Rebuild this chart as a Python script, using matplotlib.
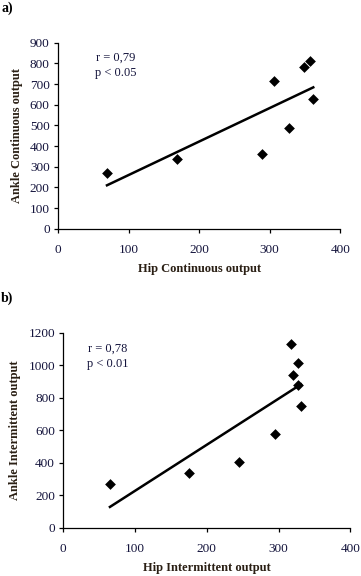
import numpy as np
import matplotlib
matplotlib.use("Agg")
import matplotlib.pyplot as plt

# Panel a data
hip_cont = [69.4, 168, 288.5, 306, 326.8, 348.5, 356.6, 361.7]
ankle_cont = [269, 337, 360, 714, 489, 782, 811, 626]
# Panel b data
hip_int = [65, 174.7, 244.4, 295, 316.8, 320, 326.6, 326.6, 331.2]
ankle_int = [270, 338, 407.5, 577, 1132, 938, 1014, 876, 749.5]

xticks = [0, 100, 200, 300, 400]
yticks_a = [0, 100, 200, 300, 400, 500, 600, 700, 800, 900]
yticks_b = [0, 200, 400, 600, 800, 1000, 1200]

plt.rcParams['font.family'] = ['Liberation Serif', 'DejaVu Serif']

W, H = 361, 576
fig = plt.figure(figsize=(W / 100, H / 100), dpi=100)

tick_color = '#14143c'
label_color = '#2a1f14'

def panel(rect, x, y, yticks, xlabel, ylabel, rtxt, ptxt, tpos, letter, lpos):
    ax = fig.add_axes(rect)
    ax.scatter(x, y, marker='D', s=30, color='black', zorder=3, linewidths=0)
    k, b = np.polyfit(x, y, 1)
    xs = np.array([min(x), max(x)])
    ax.plot(xs, k * xs + b, color='black', lw=1.8, zorder=2)
    ax.set_xlim(0, 400)
    ax.set_ylim(yticks[0], yticks[-1])
    ax.set_xticks(xticks)
    ax.set_yticks(yticks)
    for s in ['top', 'right']:
        ax.spines[s].set_visible(False)
    for s in ['left', 'bottom']:
        ax.spines[s].set_linewidth(0.9)
    ax.tick_params(axis='both', labelsize=9.5, colors='black', labelcolor=tick_color,
                   length=3, width=0.9, direction='out')
    ax.tick_params(axis='x', pad=8)
    ax.tick_params(axis='y', pad=3)
    ax.set_xlabel(xlabel, fontsize=9, fontweight='bold', color=label_color, labelpad=5)
    ax.set_ylabel(ylabel, fontsize=9, fontweight='bold', color=label_color, labelpad=5)
    ax.text(tpos[0], tpos[1], rtxt, transform=ax.transAxes, fontsize=9, color=tick_color,
            va='center', ha='left')
    ax.text(tpos[0] - 0.004, tpos[1] - 0.08, ptxt, transform=ax.transAxes, fontsize=9,
            color=tick_color, va='center', ha='left')
    fig.text(lpos[0], lpos[1], letter, fontsize=10, fontweight='bold', ha='left', va='center')
    return ax

panel([58 / W, 1 - 228.7 / H, 282.3 / W, 186 / H], hip_cont, ankle_cont, yticks_a,
      'Hip Continuous output', 'Ankle Continuous output', 'r = 0,79', 'p < 0.05',
      (0.136, 0.918), 'a)', (0.003, 1 - 8 / H))
panel([63.3 / W, 1 - 528 / H, 287 / W, 195.3 / H], hip_int, ankle_int, yticks_b,
      'Hip Intermittent output', 'Ankle Intermittent output', 'r = 0,78', 'p < 0.01',
      (0.085, 0.918), 'b)', (0.003, 1 - 298 / H))

fig.savefig('out.png', dpi=100)
